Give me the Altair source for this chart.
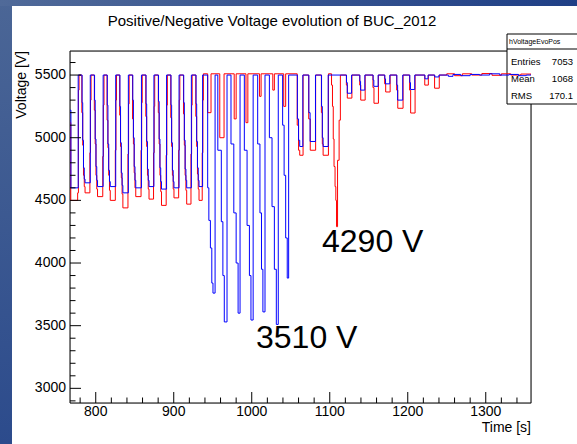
import altair as alt
import pandas as pd

# ---------------- data ----------------
blue_t = [767.0, 768.2, 777.5,
          782.5, 783.3, 784.3, 785.3, 786.3, 793.0,
          798.5, 799.3, 800.3, 801.3, 802.3, 809.5,
          814.8, 815.6, 816.6, 817.6, 818.6, 825.6,
          831.0, 831.8, 832.8, 833.8, 834.8, 841.8,
          847.5, 848.3, 849.3, 850.3, 851.3, 858.6,
          864.5, 865.3, 866.3, 867.3, 868.3, 874.6,
          880.5, 881.3, 882.3, 883.3, 884.3, 890.8,
          896.5, 897.3, 898.3, 899.3, 900.3, 906.8,
          912.8, 913.6, 914.6, 915.6, 916.6, 922.6,
          928.6, 929.4, 930.4, 931.4, 932.4, 937.0,
          943.5, 945.0, 947.0, 948.8, 950.3, 953.0,
          956.5, 961.0, 963.0, 964.8, 968.3,
          973.4, 977.0, 980.0, 982.5, 985.0,
          990.5, 994.0, 997.0, 999.0, 1001.8,
          1007.6, 1010.5, 1012.5, 1014.3, 1017.0,
          1022.6, 1026.0, 1029.0, 1031.5, 1034.0,
          1039.6, 1041.5, 1043.5, 1045.5, 1047.3,
          1058.5, 1060.0, 1061.5, 1065.5,
          1073.2, 1074.8, 1081.7,
          1089.5, 1090.5, 1091.5, 1098.0,
          1121.5, 1122.5, 1128.0,
          1138.6, 1139.5, 1145.0,
          1155.6, 1156.5, 1162.0,
          1170.6, 1171.5, 1177.0,
          1186.0, 1187.0, 1193.6,
          1202.6, 1203.5, 1209.0,
          1222.0, 1226.0,
          1234.6, 1240.0,
          1252, 1258, 1268, 1280, 1292, 1305, 1318, 1330, 1342, 1352, 1358]
blue_v = [5220, 4600, 5500,
          5280, 4980, 4760, 4670, 4640, 5500,
          5300, 4990, 4770, 4660, 4610, 5500,
          5260, 4950, 4740, 4650, 4610, 5500,
          5250, 4960, 4720, 4620, 4560, 5500,
          5300, 5000, 4770, 4660, 4600, 5500,
          5270, 4970, 4750, 4660, 4610, 5500,
          5290, 4990, 4760, 4650, 4590, 5500,
          5260, 4960, 4740, 4650, 4600, 5500,
          5280, 4980, 4750, 4660, 4600, 5500,
          5270, 4970, 4760, 4660, 4610, 5500,
          4600, 4340, 4120, 3840, 3760, 5500,
          4900, 4330, 3900, 3530, 5500,
          4950, 4400, 4000, 3600, 5500,
          4900, 4300, 3900, 3545, 5500,
          4950, 4400, 3950, 3610, 5500,
          5000, 4450, 3950, 3510, 5500,
          5100, 4700, 4200, 3880, 5500,
          5150, 4980, 4930, 5500,
          5200, 4970, 5500,
          5250, 5000, 4930, 5500,
          5440, 5355, 5500,
          5450, 5380, 5500,
          5460, 5410, 5500,
          5470, 5430, 5500,
          5420, 5300, 5500,
          5440, 5385, 5500,
          5470, 5500,
          5485, 5500,
          5490, 5505, 5495, 5505, 5500, 5510, 5500, 5505, 5495, 5500, 5500]

red_t = [767.0, 768.0, 776.8, 777.8, 778.6,
         782.2, 783.3, 784.3, 785.3, 786.3, 792.5, 793.3, 794.0,
         798.2, 799.3, 800.3, 801.3, 802.3, 809.0, 809.8, 810.6,
         814.5, 815.6, 816.6, 817.6, 818.6, 825.1, 825.9, 826.6,
         830.7, 831.8, 832.8, 833.8, 834.8, 841.3, 842.1, 842.8,
         847.2, 848.3, 849.3, 850.3, 851.3, 858.1, 858.9, 859.6,
         864.2, 865.3, 866.3, 867.3, 868.3, 874.1, 874.9, 875.6,
         880.2, 881.3, 882.3, 883.3, 884.3, 890.3, 891.1, 891.8,
         896.2, 897.3, 898.3, 899.3, 900.3, 906.3, 907.1, 907.8,
         912.5, 913.6, 914.6, 915.6, 916.6, 922.1, 922.9, 923.6,
         928.3, 929.4, 930.4, 931.4, 932.4, 936.5, 937.3, 938.0,
         943.5, 947.8, 959.0, 964.5, 977.5, 980.0, 992.6, 995.0,
         1010.0, 1012.0, 1027.0, 1029.0, 1041.0, 1043.5,
         1058.3, 1060.0, 1061.5, 1065.8,
         1073.0, 1075.0, 1081.9,
         1089.3, 1090.5, 1091.5, 1098.3,
         1102.3, 1103.5, 1104.5, 1105.5, 1106.8, 1107.8, 1108.7, 1110.0, 1112.0, 1113.6,
         1121.3, 1122.5, 1128.4,
         1138.4, 1139.7, 1145.4,
         1155.4, 1156.7, 1162.4,
         1170.4, 1171.7, 1177.4,
         1185.8, 1187.2, 1194.0,
         1202.4, 1203.7, 1209.4,
         1221.8, 1226.4,
         1234.4, 1240.4,
         1250, 1260, 1270, 1282, 1295, 1308, 1320, 1332, 1345, 1358]
red_v = [5120, 4500, 4560, 5380, 5500,
         5200, 4940, 4700, 4610, 4560, 4880, 5300, 5500,
         5220, 4950, 4700, 4590, 4530, 4850, 5260, 5500,
         5140, 4920, 4700, 4580, 4500, 4900, 5300, 5500,
         5180, 4930, 4680, 4550, 4440, 4870, 5270, 5500,
         5150, 4950, 4720, 4600, 4530, 4900, 5280, 5500,
         5170, 4930, 4700, 4590, 4510, 4880, 5250, 5500,
         5200, 4950, 4700, 4570, 4460, 4860, 5260, 5500,
         5160, 4930, 4700, 4590, 4520, 4900, 5300, 5500,
         5190, 4940, 4700, 4580, 4470, 4870, 5260, 5500,
         5170, 4930, 4710, 4590, 4500, 4880, 5300, 5510,
         5200, 5510, 5000, 5510, 5150, 5510, 5120, 5510,
         5330, 5510, 5380, 5510, 5250, 5510,
         5100, 4900, 4860, 5500,
         5150, 4900, 5500,
         5200, 4950, 4860, 5510,
         5420, 5250, 4990, 4770, 4610, 4500, 4290, 4820, 5140, 5500,
         5420, 5316, 5500,
         5420, 5300, 5500,
         5400, 5275, 5500,
         5430, 5365, 5500,
         5380, 5235, 5500,
         5380, 5197, 5500,
         5420, 5500,
         5395, 5500,
         5510, 5495, 5510, 5500, 5512, 5498, 5510, 5500, 5508, 5500]

x_major = [800, 900, 1000, 1100, 1200, 1300]
x_labels = ["800", "900", "1000", "1100", "1200", "1300"]
x_minor = [780, 820, 840, 860, 880, 920, 940, 960, 980, 1020, 1040, 1060, 1080,
           1120, 1140, 1160, 1180, 1220, 1240, 1260, 1280, 1320, 1340]
y_major = [3000, 3500, 4000, 4500, 5000, 5500]
y_labels = ["3000", "3500", "4000", "4500", "5000", "5500"]
y_minor = [2900, 3100, 3200, 3300, 3400, 3600, 3700, 3800, 3900, 4100, 4200, 4300,
           4400, 4600, 4700, 4800, 4900, 5100, 5200, 5300, 5400, 5600]

stats_labels = ["Entries", "Mean", "RMS"]
stats_values = ["7053", "1068", "170.1"]

# ---------------- layout ----------------
W, H = 461, 352
FONT = "Liberation Sans"
xs = alt.Scale(domain=[767, 1358], nice=False, zero=False)
ys = alt.Scale(domain=[2883, 5692], nice=False, zero=False)

one = alt.Data(values=[{}])


def txt(text, x, y, size, align="left", baseline="middle"):
    return alt.Chart(one).mark_text(text=text, font=FONT, fontSize=size, align=align,
                                    baseline=baseline, color="black").encode(
        x=alt.value(x), y=alt.value(y))


left_strip = alt.Chart(one).mark_rect(
    fill=alt.LinearGradient(gradient="linear", x1=0, x2=0, y1=0, y2=1,
                            stops=[alt.GradientStop(color="#4b6696", offset=0),
                                   alt.GradientStop(color="#2c4b8c", offset=1)]),
    strokeWidth=0).encode(x=alt.value(-70), x2=alt.value(-58), y=alt.value(-51), y2=alt.value(H + 41))
top_strip = alt.Chart(one).mark_rect(
    fill=alt.LinearGradient(gradient="linear", x1=0, x2=1, y1=0, y2=0,
                            stops=[alt.GradientStop(color="#506a99", offset=0),
                                   alt.GradientStop(color="#1f3f86", offset=1)]),
    strokeWidth=0).encode(x=alt.value(-70), x2=alt.value(W + 46), y=alt.value(-51), y2=alt.value(-45))

frame = alt.Chart(one).mark_rect(fillOpacity=0, stroke="black", strokeWidth=1).encode(
    x=alt.value(0), x2=alt.value(W), y=alt.value(0), y2=alt.value(H))

red_df = pd.DataFrame({"t": red_t, "v": red_v})
blue_df = pd.DataFrame({"t": blue_t, "v": blue_v})

red_line = alt.Chart(red_df).mark_line(interpolate="step-after", color="#ff0000", strokeWidth=1, clip=True).encode(
    x=alt.X("t:Q", scale=xs, axis=None),
    y=alt.Y("v:Q", scale=ys, axis=None))
blue_line = alt.Chart(blue_df).mark_line(interpolate="step-after", color="#0000ff", strokeWidth=1, clip=True).encode(
    x=alt.X("t:Q", scale=xs, axis=None), y=alt.Y("v:Q", scale=ys, axis=None))

ytm = alt.Chart(pd.DataFrame({"v": y_major})).mark_rule(color="black", strokeWidth=1).encode(
    y=alt.Y("v:Q", scale=ys, axis=None), x=alt.value(0), x2=alt.value(11))
ytn = alt.Chart(pd.DataFrame({"v": y_minor})).mark_rule(color="black", strokeWidth=1).encode(
    y=alt.Y("v:Q", scale=ys, axis=None), x=alt.value(0), x2=alt.value(5.5))
xtm = alt.Chart(pd.DataFrame({"t": x_major})).mark_rule(color="black", strokeWidth=1).encode(
    x=alt.X("t:Q", scale=xs, axis=None), y=alt.value(H), y2=alt.value(H - 11))
xtn = alt.Chart(pd.DataFrame({"t": x_minor})).mark_rule(color="black", strokeWidth=1).encode(
    x=alt.X("t:Q", scale=xs, axis=None), y=alt.value(H), y2=alt.value(H - 5.5))

ylab = alt.Chart(pd.DataFrame({"v": y_major, "lab": y_labels})).mark_text(
    font=FONT, fontSize=14, align="right", baseline="middle", color="black").encode(
    y=alt.Y("v:Q", scale=ys, axis=None), x=alt.value(-4), text="lab:N")
xlab = alt.Chart(pd.DataFrame({"t": x_major, "lab": x_labels})).mark_text(
    font=FONT, fontSize=14, align="center", baseline="top", color="black").encode(
    x=alt.X("t:Q", scale=xs, axis=None), y=alt.value(H + 2), text="lab:N")

xtitle = txt("Time [s]", W, H + 29, 14, align="right", baseline="alphabetic")
ytitle = alt.Chart(one).mark_text(text="Voltage [V]", font=FONT, fontSize=14, align="right",
                                  baseline="middle", angle=270, color="black").encode(
    x=alt.value(-48), y=alt.value(0))

# stats box
box = alt.Chart(one).mark_rect(fill="white", stroke="black", strokeWidth=1).encode(
    x=alt.value(437), x2=alt.value(515), y=alt.value(-17), y2=alt.value(53))
box_sep = alt.Chart(one).mark_rule(color="black", strokeWidth=1).encode(
    x=alt.value(437), x2=alt.value(515), y=alt.value(-2))
box_title = txt("hVoltageEvoPos", 439, -9, 7)
row_y = [10.5, 28, 45]
box_texts = []
for lab, val, yy in zip(stats_labels, stats_values, row_y):
    box_texts.append(txt(lab, 441, yy, 9.5))
    box_texts.append(txt(val, 503, yy, 9.5, align="right"))

title = txt("Positive/Negative Voltage evolution of BUC_2012", 202, -30, 15, align="center")
ann1 = txt("4290 V", 252, 201, 32, baseline="alphabetic")
ann2 = txt("3510 V", 186, 297, 32, baseline="alphabetic")

chart = alt.layer(
    left_strip, top_strip, frame, box, box_sep, box_title, *box_texts,
    red_line, blue_line, ytm, ytn, xtm, xtn, ylab, xlab, xtitle, ytitle, title, ann1, ann2
).properties(
    width=W, height=H,
    autosize=alt.AutoSizeParams(type="none"),
    padding={"left": 70, "top": 51, "right": 46, "bottom": 41},
    background="white",
).configure_view(strokeWidth=0).configure(font=FONT)

chart.save("out.html", embed_options={"renderer": "svg", "actions": False})
